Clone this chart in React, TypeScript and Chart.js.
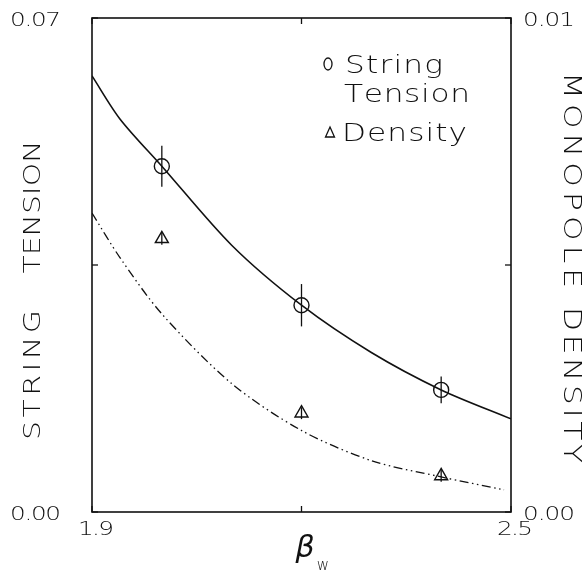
import React, { useEffect, useRef } from "react";
import { Chart, registerables } from "chart.js";

Chart.register(...registerables);

// ---- data ----
const betaPoints = [2.0, 2.2, 2.4];
const stringTension = [0.049, 0.0293, 0.0173];
const stringTensionErr = [0.0029, 0.003, 0.0019];
const monopoleDensity = [0.00553, 0.002, 0.00073];
const densityErr = [0.00012, 0.00012, 0.00012];

const tensionFitBeta = [1.9, 1.94, 2.0, 2.1, 2.2, 2.3, 2.4, 2.5];
const tensionFit = [0.0618, 0.0557, 0.049, 0.0378, 0.0293, 0.0226, 0.0173, 0.0132];
const densityFitBeta = [1.9, 1.94, 2.0, 2.1, 2.2, 2.3, 2.4, 2.49];
const densityFit = [0.00605, 0.00515, 0.00401, 0.0026, 0.00165, 0.00104, 0.00071, 0.00045];

const xTicks = [1.9, 2.2, 2.5];
const xTickLabels = ["1.9", "", "2.5"];
const yLeftTicks = [0, 0.035, 0.07];
const yLeftTickLabels = ["0.00", "", "0.07"];
const yRightTicks = [0, 0.005, 0.01];
const yRightTickLabels = ["0.00", "", "0.01"];

const INK = "#111";
const FAMILY = '"DejaVu Sans", sans-serif';
const WEIGHT = "200";
const STRETCH = 1.3;

function drawSpaced(
  ctx: CanvasRenderingContext2D,
  text: string,
  x: number,
  yCenter: number,
  width: number,
  align: "left" | "right" | "center",
  size: number
) {
  ctx.font = `${WEIGHT} ${size}px ${FAMILY}`;
  ctx.textBaseline = "alphabetic";
  ctx.textAlign = "left";
  const chars = [...text];
  const ws = chars.map((c) => ctx.measureText(c).width * STRETCH);
  const sum = ws.reduce((a, b) => a + b, 0);
  const gap = chars.length > 1 ? (width - sum) / (chars.length - 1) : 0;
  let start = x;
  if (align === "right") start = x - width;
  if (align === "center") start = x - width / 2;
  const baseline = yCenter + size * 0.365;
  let cx = start;
  chars.forEach((c, i) => {
    ctx.save();
    ctx.translate(cx, baseline);
    ctx.scale(STRETCH, 1);
    ctx.fillText(c, 0, 0);
    ctx.restore();
    cx += ws[i] + gap;
  });
}

const decorPlugin = {
  id: "decor",
  afterDatasetsDraw(chart: any) {
    const ctx: CanvasRenderingContext2D = chart.ctx;
    const a = chart.chartArea;
    const sx = chart.scales.x;
    const sy = chart.scales.y;
    const sy2 = chart.scales.y2;
    ctx.save();
    ctx.strokeStyle = INK;
    ctx.fillStyle = INK;

    // error bars
    ctx.lineWidth = 1.3;
    betaPoints.forEach((b, i) => {
      const px = sx.getPixelForValue(b);
      ctx.beginPath();
      ctx.moveTo(px, sy.getPixelForValue(stringTension[i] - stringTensionErr[i]));
      ctx.lineTo(px, sy.getPixelForValue(stringTension[i] + stringTensionErr[i]));
      ctx.stroke();
      ctx.beginPath();
      ctx.moveTo(px, sy2.getPixelForValue(monopoleDensity[i] - densityErr[i]));
      ctx.lineTo(px, sy2.getPixelForValue(monopoleDensity[i] + densityErr[i]));
      ctx.stroke();
    });

    // frame
    ctx.lineWidth = 1.6;
    ctx.strokeRect(a.left, a.top, a.right - a.left, a.bottom - a.top);

    // inward ticks
    ctx.lineWidth = 1.3;
    const tl = 6;
    xTicks.forEach((t) => {
      const px = sx.getPixelForValue(t);
      ctx.beginPath();
      ctx.moveTo(px, a.bottom);
      ctx.lineTo(px, a.bottom - tl);
      ctx.moveTo(px, a.top);
      ctx.lineTo(px, a.top + tl);
      ctx.stroke();
    });
    yLeftTicks.forEach((t) => {
      const py = sy.getPixelForValue(t);
      ctx.beginPath();
      ctx.moveTo(a.left, py);
      ctx.lineTo(a.left + tl, py);
      ctx.stroke();
    });
    yRightTicks.forEach((t) => {
      const py = sy2.getPixelForValue(t);
      ctx.beginPath();
      ctx.moveTo(a.right, py);
      ctx.lineTo(a.right - tl, py);
      ctx.stroke();
    });

    // tick labels
    xTicks.forEach((t, i) => {
      if (!xTickLabels[i]) return;
      drawSpaced(ctx, xTickLabels[i], sx.getPixelForValue(t) + 4, a.bottom + 16, 36, "center", 19);
    });
    yLeftTicks.forEach((t, i) => {
      if (!yLeftTickLabels[i]) return;
      drawSpaced(ctx, yLeftTickLabels[i], a.left - 31, sy.getPixelForValue(t) + 1, 51, "right", 19);
    });
    yRightTicks.forEach((t, i) => {
      if (!yRightTickLabels[i]) return;
      drawSpaced(ctx, yRightTickLabels[i], a.right + 12, sy2.getPixelForValue(t) + 1, 52, "left", 19);
    });

    // axis titles
    ctx.save();
    ctx.translate(32, 375);
    ctx.rotate(-Math.PI / 2);
    drawSpaced(ctx, "STRING", 0, 0, 130, "center", 23);
    ctx.restore();
    ctx.save();
    ctx.translate(32, 207);
    ctx.rotate(-Math.PI / 2);
    drawSpaced(ctx, "TENSION", 0, 0, 133, "center", 23);
    ctx.restore();

    ctx.save();
    ctx.translate(573, 180);
    ctx.rotate(Math.PI / 2);
    drawSpaced(ctx, "MONOPOLE", 0, 0, 216, "center", 24);
    ctx.restore();
    ctx.save();
    ctx.translate(573, 385);
    ctx.rotate(Math.PI / 2);
    drawSpaced(ctx, "DENSITY", 0, 0, 156, "center", 24);
    ctx.restore();

    // x title beta_w
    ctx.font = `italic 30px "DejaVu Sans", sans-serif`;
    ctx.textAlign = "center";
    ctx.textBaseline = "middle";
    ctx.fillText("β", 305, 549);
    ctx.font = `${WEIGHT} 15px ${FAMILY}`;
    ctx.fillText("w", 323, 566);

    // legend
    ctx.lineWidth = 1.3;
    ctx.beginPath();
    ctx.ellipse(328, 64, 4, 6, 0, 0, Math.PI * 2);
    ctx.stroke();
    drawSpaced(ctx, "String", 345, 64, 98, "left", 24);
    drawSpaced(ctx, "Tension", 344, 93, 126, "left", 24);
    ctx.beginPath();
    ctx.moveTo(330, 127);
    ctx.lineTo(334.5, 137);
    ctx.lineTo(325.5, 137);
    ctx.closePath();
    ctx.stroke();
    drawSpaced(ctx, "Density", 342, 132, 125, "left", 24);

    ctx.restore();
  },
};

export default function App() {
  const ref = useRef<HTMLCanvasElement>(null);
  useEffect(() => {
    if (!ref.current) return;
    const chart = new Chart(ref.current, {
      type: "scatter",
      data: {
        datasets: [
          {
            label: "tension fit",
            data: tensionFitBeta.map((x, i) => ({ x, y: tensionFit[i] })),
            yAxisID: "y",
            showLine: true,
            borderColor: INK,
            borderWidth: 1.6,
            pointRadius: 0,
            tension: 0.3,
          },
          {
            label: "density fit",
            data: densityFitBeta.map((x, i) => ({ x, y: densityFit[i] })),
            yAxisID: "y2",
            showLine: true,
            borderColor: INK,
            borderWidth: 1.3,
            borderDash: [9, 3.5, 1.5, 3.5, 1.5, 3.5],
            pointRadius: 0,
            tension: 0.3,
          },
          {
            label: "String Tension",
            data: betaPoints.map((x, i) => ({ x, y: stringTension[i] })),
            yAxisID: "y",
            showLine: false,
            pointStyle: "circle",
            pointRadius: 7.5,
            borderWidth: 1.4,
            borderColor: INK,
            backgroundColor: "rgba(0,0,0,0)",
          },
          {
            label: "Density",
            data: betaPoints.map((x, i) => ({ x, y: monopoleDensity[i] })),
            yAxisID: "y2",
            showLine: false,
            pointStyle: "triangle",
            pointRadius: 7.5,
            borderWidth: 1.4,
            borderColor: INK,
            backgroundColor: "rgba(0,0,0,0)",
          },
        ],
      },
      options: {
        responsive: false,
        animation: false,
        events: [],
        layout: { padding: { top: 18, left: 0, right: 0, bottom: 0 } },
        plugins: { legend: { display: false }, tooltip: { enabled: false } },
        scales: {
          x: {
            type: "linear",
            min: 1.9,
            max: 2.5,
            ticks: { display: false },
            grid: { display: false },
            border: { display: false },
            afterFit: (s: any) => {
              s.height = 61;
            },
          },
          y: {
            position: "left",
            min: 0,
            max: 0.07,
            ticks: { display: false },
            grid: { display: false },
            border: { display: false },
            afterFit: (s: any) => {
              s.width = 92;
            },
          },
          y2: {
            position: "right",
            min: 0,
            max: 0.01,
            ticks: { display: false },
            grid: { display: false },
            border: { display: false },
            afterFit: (s: any) => {
              s.width = 76;
            },
          },
        },
      },
      plugins: [decorPlugin],
    } as any);
    return () => chart.destroy();
  }, []);
  return (
    <div style={{ position: "fixed", left: 0, top: 0, width: 587, height: 573, background: "#fff" }}>
      <canvas ref={ref} width={587} height={573} style={{ width: 587, height: 573, display: "block" }} />
    </div>
  );
}
